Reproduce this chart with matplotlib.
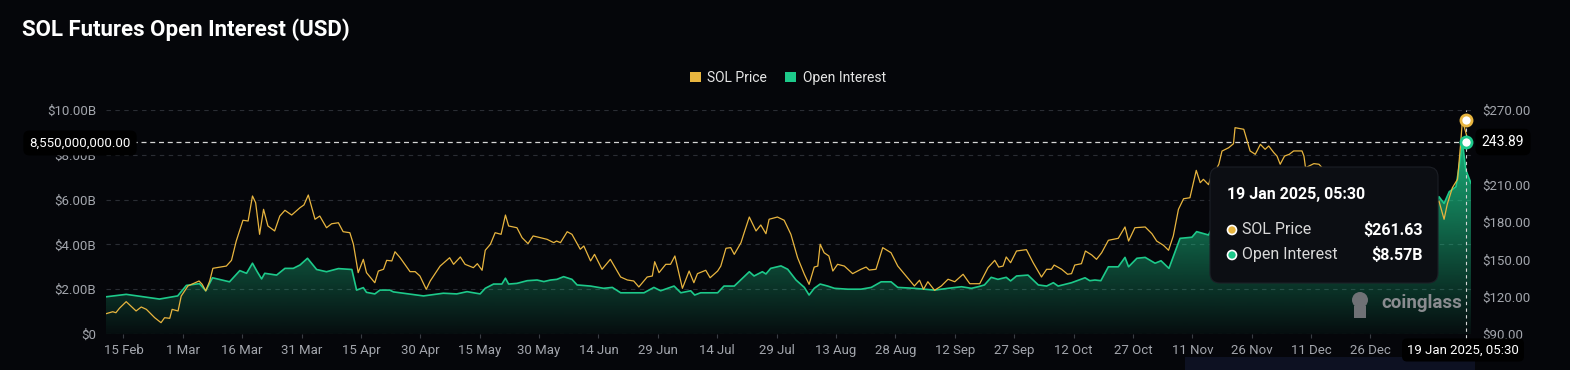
import numpy as np
import pandas as pd
import matplotlib
matplotlib.use("Agg")
import matplotlib.pyplot as plt
import matplotlib.dates as mdates
from matplotlib.patches import FancyBboxPatch, Patch, Rectangle, Circle
from matplotlib.colors import to_rgb

plt.rcParams['font.family'] = ['Roboto', 'DejaVu Sans']

BG = '#05060a'
ORANGE = '#e8b53f'
GREEN = '#1dc98a'
GRID = '#2a2d34'
TICK = '#a3a6ad'

start = pd.Timestamp("2024-02-15")

# SOL price (USD), x = days after 15 Feb 2024
price_day = [
    -4.4, -2.7, -1.9, -1.0, 0.7, 3.2, 4.5, 5.8, 7.9, 9.5, 10.4, 11.7, 12.3, 13.8, 14.6,
    16.3, 19.1, 19.9, 20.8, 21.8, 22.6, 26.0, 27.3, 28.5, 30.2, 31.5, 32.6, 33.4, 34.4, 35.4,
    36.5, 38.2, 39.5, 40.8, 42.5, 44.6, 45.6, 46.7, 48.4, 49.6, 51.3, 52.6, 54.3, 55.5, 57.2,
    58.1, 59.3, 60.6, 61.4, 63.5, 64.4, 65.7, 66.5, 67.8, 68.6, 69.9,
    72.4, 73.7, 74.9, 76.5, 77.5, 80.0, 82.4, 83.4, 85.1, 86.3, 88.4, 89.4, 90.6, 91.4, 92.7,
    93.9, 95.4, 96.5, 97.3, 99.4, 100.7, 102.2, 103.5, 107.0, 108.7, 109.4, 110.4, 112.1, 113.3,
    115.4, 116.3, 118.0, 119.0, 120.9, 123.0, 125.6, 127.3, 128.9, 130.2, 132.3, 133.6, 134.2,
    135.3, 137.0, 138.2, 139.3, 141.2, 142.9,
    144.1, 145.0, 147.1, 148.2, 150.1, 150.9, 152.2, 153.4, 154.3, 156.0, 156.8, 158.1, 159.8,
    161.0, 162.3, 163.1, 165.2, 166.9, 168.6, 170.3, 172.0, 173.2, 174.5, 175.4, 176.0, 177.0,
    178.2, 179.2, 180.4, 182.1, 184.2, 186.3, 187.6, 188.4, 190.1, 191.8, 193.9, 195.6, 197.7,
    199.8, 201.1, 202.1, 203.2, 204.9, 206.6, 208.3, 210.0, 212.1,
    213.8, 216.3, 218.4, 220.1, 221.1, 222.2, 223.0, 224.1, 225.6, 228.1, 229.8, 231.9, 233.2,
    234.4, 235.1, 237.0, 238.5, 239.5, 240.3, 242.0, 243.0, 244.6, 245.8, 247.1, 248.8, 251.3,
    253.0, 253.9, 255.5, 258.1, 259.8, 261.0, 262.7, 264.0, 265.2, 266.5, 267.8, 269.4, 271.0,
    272.0, 272.8, 274.1, 274.9, 275.8, 276.7, 277.5, 279.2, 280.4, 280.8, 283.0, 284.6, 285.9,
    287.2, 288.4, 289.3, 290.6, 291.4, 292.2, 293.3, 294.5, 295.6, 297.7, 298.2, 298.6, 300.7,
    302.0, 302.8,
    305.0, 307.5, 310.0, 312.5, 315.0, 317.5, 320.0, 322.5, 325.0, 327.5, 330.0,
    332.3, 333.6, 334.4, 335.7, 337.0, 337.7, 338.23, 339.1, 339.9,
]
price_usd = [
    106.3, 107.9, 107.1, 110.7, 116.0, 108.5, 111.7, 109.8, 103.1, 99.1, 103.1, 102.6, 109.8, 108.5, 120.5,
    128.6, 132.6, 129.9, 124.6, 132.6, 142.8, 144.6, 149.2, 164.7, 181.4, 180.8, 200.9, 195.5, 170.1, 190.2,
    176.8, 172.8, 184.8, 189.4, 185.6, 191.5, 193.7, 201.7, 182.2, 184.8, 175.4, 178.6, 179.4, 172.2, 171.4,
    162.1, 139.3, 150.0, 139.3, 131.2, 140.6, 142.0, 149.2, 148.7, 156.1, 151.3,
    140.1, 140.1, 136.6, 125.9, 132.6, 144.6, 151.3, 146.0, 151.9, 146.0, 143.3, 146.5, 141.2, 157.3, 162.1,
    171.4, 170.1, 185.6, 176.8, 175.4, 167.4, 162.6, 168.8, 166.1, 163.4, 164.7, 163.4, 172.2, 170.1,
    158.1, 160.7, 148.7, 154.0, 142.0, 150.0, 135.8, 133.4, 132.6, 127.8, 135.8, 136.6, 148.1,
    139.3, 146.0, 146.0, 152.7, 126.7, 140.6,
    131.2, 138.5, 141.2, 135.2, 140.6, 144.6, 158.9, 159.4, 154.0, 163.4, 171.4, 184.0, 172.8,
    177.6, 170.6, 182.2, 184.0, 181.4, 170.1, 151.3, 138.0, 129.9, 143.8, 144.6, 162.1, 155.3,
    152.7, 140.6, 146.0, 144.6, 138.5, 142.0, 143.8, 141.4, 142.0, 159.4, 155.3, 144.6, 136.6,
    128.6, 133.2, 125.9, 132.0, 125.1, 128.6, 134.0, 132.0, 138.0,
    130.4, 130.4, 143.3, 149.2, 143.8, 144.6, 151.9, 147.3, 156.7, 157.8, 147.3, 135.8, 142.0,
    142.0, 145.4, 142.0, 138.0, 138.5, 145.4, 146.5, 156.7, 153.5, 150.0, 155.3, 165.3, 166.9,
    176.0, 164.7, 175.4, 176.0, 170.6, 164.7, 161.3, 157.3, 168.8, 190.2, 198.7, 199.5, 221.5,
    211.6, 214.3, 210.0, 218.3, 221.0, 226.4, 237.0, 239.7, 242.9, 255.8, 254.5, 237.1, 234.4,
    242.4, 238.4, 241.1, 235.7, 233.0, 226.4, 233.0, 234.4, 237.1, 237.1, 233.0, 223.6, 226.9,
    226.4, 223.6,
    218.0, 212.0, 214.0, 200.0, 192.0, 190.0, 196.0, 205.0, 213.0, 200.0, 189.0,
    196.9, 182.2, 194.2, 207.6, 214.3, 239.7, 261.63, 251.8, 242.4,
]

# open interest (billion USD)
oi_day = [
    -4.4, 0.7, 5.8, 9.1, 13.7, 15.9, 19.2, 20.8, 22.5, 26.8, 29.4, 31.1, 32.6, 33.8, 34.9, 35.7,
    38.7, 40.8, 42.9, 44.6, 46.5, 48.8, 51.3, 54.3, 57.7, 58.9, 60.6, 61.4, 63.5, 64.8, 67.3, 68.2,
    70.7, 75.8, 80.8, 84.2, 86.8, 90.1, 91.4, 93.5, 95.6, 96.5, 97.3, 99.4, 102.0, 104.5, 106.2,
    107.9, 109.5, 111.2, 113.3, 114.6, 118.0, 121.3, 123.5, 125.6, 131.5, 134.0, 135.7, 139.1, 140.8,
    143.3, 144.3, 145.8, 150.1, 151.7, 154.3, 156.4, 158.1, 159.3, 161.4, 162.3, 163.5, 166.1,
    167.8, 169.9, 172.0, 173.2, 174.5, 176.0, 177.9, 179.6, 183.0, 186.3, 188.9, 191.4, 193.9,
    195.6, 199.8, 204.9, 208.3,
    211.7, 214.2, 215.9, 217.5, 219.2, 220.9, 223.0, 224.1, 225.6, 228.5, 231.1, 233.2, 234.9,
    236.1, 239.5, 242.9, 244.1, 245.4, 246.9, 248.8, 251.3, 253.0, 253.9, 256.0, 258.1, 260.6,
    262.1, 264.1, 266.9, 269.9, 271.1, 274.1, 274.9,
    280.0, 285.0, 290.0, 295.0, 300.0, 305.0, 310.0, 315.0, 320.0, 325.0, 329.0, 331.0,
    332.3, 333.6, 334.9, 336.6, 337.4, 338.23, 339.1, 340.4,
]
oi_bn = [
    1.66, 1.77, 1.64, 1.56, 1.70, 2.17, 2.25, 1.93, 2.51, 2.33, 2.83, 2.71, 3.16, 2.78, 2.46, 2.71,
    2.63, 2.93, 2.93, 3.08, 3.38, 2.88, 2.78, 2.92, 2.88, 1.96, 2.07, 1.86, 1.79, 1.96, 1.96, 1.88,
    1.82, 1.70, 1.82, 1.79, 1.89, 1.79, 2.04, 2.23, 2.23, 2.49, 2.23, 2.26, 2.38, 2.41, 2.34,
    2.41, 2.44, 2.56, 2.44, 2.19, 2.14, 2.04, 2.08, 1.84, 1.84, 2.08, 1.93, 2.14, 1.84,
    1.93, 1.74, 1.84, 1.84, 2.14, 2.14, 2.49, 2.78, 2.59, 2.78, 2.68, 2.93, 3.04,
    2.89, 2.41, 2.08, 1.74, 2.04, 2.23, 2.14, 2.04, 2.00, 2.00, 2.08, 2.33, 2.33,
    2.08, 2.04, 1.96, 2.04,
    2.11, 2.04, 2.11, 2.19, 2.53, 2.44, 2.53, 2.37, 2.59, 2.63, 2.19, 2.14, 2.29,
    2.14, 2.29, 2.51, 2.38, 2.41, 2.38, 3.00, 3.00, 3.42, 3.00, 3.38, 3.42, 3.16,
    3.27, 2.93, 4.27, 4.32, 4.57, 4.42, 4.71,
    4.9, 5.4, 5.6, 5.2, 5.0, 4.8, 4.5, 4.3, 4.6, 5.1, 4.7, 5.6,
    6.13, 5.83, 6.35, 6.58, 7.47, 8.57, 7.32, 6.73,
]

tick_labels = ["15 Feb", "1 Mar", "16 Mar", "31 Mar", "15 Apr", "30 Apr", "15 May", "30 May",
               "14 Jun", "29 Jun", "14 Jul", "29 Jul", "13 Aug", "28 Aug", "12 Sep", "27 Sep",
               "12 Oct", "27 Oct", "11 Nov", "26 Nov", "11 Dec", "26 Dec"]
oi_ticks = [0, 2, 4, 6, 8, 10]
price_ticks = [90, 120, 150, 180, 210, 240, 270]

hover_time = pd.Timestamp("2025-01-19 05:30")
hover_label = "19 Jan 2025, 05:30"
hover_price = 261.63
hover_oi = 8.57
cross_oi = 8.55
cross_oi_label = "8,550,000,000.00"
cross_price_label = "243.89"

W, H = 1570, 370


def fx(x):
    return x / W


def fy(y):
    return 1 - y / H


pt = mdates.date2num(start + pd.to_timedelta(price_day, unit="D"))
ot = mdates.date2num(start + pd.to_timedelta(oi_day, unit="D"))
ht = mdates.date2num(hover_time)
ticks = mdates.date2num(pd.date_range(start, periods=len(tick_labels), freq="15D"))

fig = plt.figure(figsize=(W / 100, H / 100), dpi=100, facecolor=BG)
ax = fig.add_axes([fx(106), 36 / H, 1365 / W, 224 / H])
ax.set_facecolor(BG)
ax2 = ax.twinx()
ax2.patch.set_visible(False)

# open interest area with vertical gradient
oi = np.array(oi_bn)
x0, x1 = ot[0], ot[-1]
poly = ax.fill_between(ot, oi, 0, color='none', lw=0)
grad = np.zeros((256, 1, 4))
grad[..., :3] = to_rgb(GREEN)
grad[..., 3] = np.clip(np.linspace(0.04, 1.0, 256), 0, 0.85)[:, None]
im = ax.imshow(grad, extent=[x0, x1, 0, 10], origin='lower', aspect='auto', zorder=1,
               interpolation='bilinear')
im.set_clip_path(poly.get_paths()[0], transform=ax.transData)
ax.plot(ot, oi, color=GREEN, lw=1.2, zorder=3)

ax2.plot(pt, price_usd, color=ORANGE, lw=0.9, zorder=3)

ax.set_xlim(x0, x1)
ax.set_ylim(0, 10)
ax2.set_ylim(90, 270)

ax.set_yticks(oi_ticks)
ax.set_yticklabels(["$0" if v == 0 else f"${v:.2f}B" for v in oi_ticks])
ax2.set_yticks(price_ticks)
# the $240.00 label sits under the crosshair value box, so it is left blank
ax2.set_yticklabels(["" if v == 240 else f"${v:.2f}" for v in price_ticks])
ax.set_xticks(ticks)
ax.set_xticklabels(tick_labels)

ax.yaxis.grid(True, color=GRID, ls=(0, (4, 4)), lw=0.8)
ax.set_axisbelow(True)
ax.tick_params(axis='y', length=0, colors=TICK, labelsize=9.5, pad=7)
ax2.tick_params(axis='y', length=0, colors=TICK, labelsize=9.5, pad=8)
ax.tick_params(axis='x', length=3, color='#3a3d44', colors=TICK, labelsize=9.5, pad=4)
for a in (ax, ax2):
    for s in a.spines.values():
        s.set_visible(False)

# crosshair
ax.axhline(cross_oi, color='#d6d6d6', ls=(0, (4, 3)), lw=0.9, zorder=4)
ax2.axvline(ht, ymin=-0.02, ymax=1.0, color='#d6d6d6', ls=(0, (3, 3)), lw=0.8,
            zorder=4, clip_on=False)
ax2.plot(ht, hover_oi, 'o', ms=8, mfc='white', mec=GREEN, mew=2, zorder=6,
         transform=ax.transData, clip_on=False)
ax2.plot(ht, hover_price, 'o', ms=8, mfc='white', mec=ORANGE, mew=2, zorder=6, clip_on=False)

box = dict(boxstyle='round,pad=0.45', fc='black', ec='none')
fig.text(fx(80), fy(143), cross_oi_label, ha='center', va='center', color='white',
         fontsize=9.5, bbox=box, zorder=10)
fig.text(fx(1503), fy(142), cross_price_label, ha='center', va='center', color='white',
         fontsize=10, bbox=box, zorder=10)
fig.text(fx(1463), fy(350), hover_label, ha='center', va='center', color='white',
         fontsize=9.5, bbox=dict(boxstyle='round,pad=0.38', fc='black', ec='none'), zorder=10)

# title and legend
fig.text(fx(22), fy(30), "SOL Futures Open Interest (USD)", ha='left', va='center',
         color='white', fontsize=16, weight='bold')
fig.legend(handles=[Patch(fc=ORANGE, ec='none'), Patch(fc=GREEN, ec='none')],
           labels=["SOL Price", "Open Interest"], loc='center',
           bbox_to_anchor=(fx(788), fy(78)), ncol=2, frameon=False, fontsize=10,
           labelcolor='#e6e6e6', handlelength=0.75, handleheight=0.75,
           handletextpad=0.5, columnspacing=1.3)

# tooltip
inch = fig.dpi_scale_trans
fig.add_artist(FancyBboxPatch((12.10, (H - 283) / 100), 2.28, 1.16,
                              boxstyle='round,pad=0,rounding_size=0.1',
                              fc='#0c0e13', ec='#1c1f26', lw=0.8, transform=inch, zorder=8))
fig.text(fx(1227), fy(195), hover_label, ha='left', va='center', color='white',
         fontsize=11.5, weight='semibold', zorder=9)
rows = [("SOL Price", f"${hover_price:.2f}", ORANGE, 230),
        ("Open Interest", f"${hover_oi:.2f}B", GREEN, 255)]
for name, val, col, yy in rows:
    fig.add_artist(Circle((12.32, (H - yy) / 100), 0.045, fc=col, ec='white', lw=1.2,
                          transform=inch, zorder=9))
    fig.text(fx(1242), fy(yy), name, ha='left', va='center', color='#d9d9d9',
             fontsize=11.5, zorder=9)
    fig.text(fx(1423), fy(yy), val, ha='right', va='center', color='white',
             fontsize=11.5, weight='bold', zorder=9)

# watermark
fig.add_artist(Circle((13.60, (H - 300) / 100), 0.08, fc='#6f7175', ec='none',
                      transform=inch, zorder=2))
fig.add_artist(Rectangle((13.54, (H - 318) / 100), 0.12, 0.12, fc='#6f7175', ec='none',
                         transform=inch, zorder=2))
fig.text(fx(1381), fy(303), "coinglass", ha='left', va='center', color='#8a8c90',
         fontsize=13.5, weight='bold', zorder=2)

fig.add_artist(Rectangle((fx(1185), 0), 290 / W, 13 / H, fc='#0d1122', ec='none',
                         transform=fig.transFigure, zorder=1))

fig.savefig("out.png", dpi=100, facecolor=BG)
